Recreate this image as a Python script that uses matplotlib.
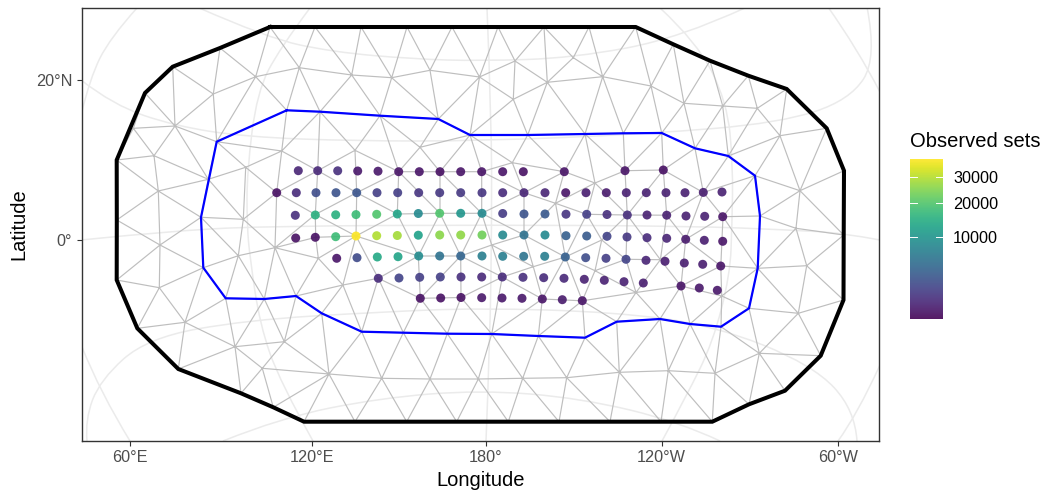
import numpy as np
import matplotlib
matplotlib.use("Agg")
import matplotlib.pyplot as plt
import matplotlib.tri as mtri
from matplotlib.path import Path
from matplotlib.patches import PathPatch
from matplotlib.colors import PowerNorm
from matplotlib.cm import ScalarMappable

plt.rcParams['font.family'] = ['Liberation Sans', 'DejaVu Sans']

# Map plane is expressed in reference-plot units
lon_ticks = [130, 311.7, 486, 661.7, 838]
lon_labels = ["60°E", "120°E", "180°", "120°W", "60°W"]
lat_ticks = [80, 240]
lat_labels = ["20°N", "0°"]

graticule = [
    [(81, 240), (180, 230), (280, 226), (486, 225), (690, 226), (790, 230), (843, 233), (880, 240)],
    [(81, 80), (113, 105), (175, 126), (247, 137), (355, 141), (480, 141), (647, 134), (780, 123), (850, 100), (877, 58), (867, 7)],
    [(197, 7), (267, 38), (333, 52), (413, 59), (480, 61), (573, 58), (680, 38), (747, 7)],
    [(87, 441), (85, 420), (100, 380), (147, 338), (247, 320), (380, 312), (480, 308), (613, 312), (713, 325), (813, 365), (855, 410), (857, 441)],
    [(223, 441), (280, 418), (380, 398), (480, 390), (580, 398), (680, 422), (720, 441)],
    [(137, 8), (110, 38), (90, 78), (81, 115)],
    [(82, 347), (100, 392), (130, 441)],
    [(310, 8), (280, 48), (257, 92), (247, 172), (247, 225), (250, 258), (260, 325), (280, 382), (313, 441)],
    [(487, 8), (491.5, 120), (491.7, 225), (490, 340), (486, 441)],
    [(660, 8), (697, 42), (727, 102), (733, 165), (732, 225), (730, 275), (713, 342), (687, 395), (662, 441)],
    [(828, 7), (857, 48), (880, 92)],
    [(880, 365), (857, 415), (838, 441)],
]

outer_boundary = [
    (270, 27), (315, 27), (361, 27), (407, 27), (452, 27), (498, 27), (544, 27), (589, 27), (635.7, 27),
    (673.3, 44.3), (710, 60.7), (748.3, 75.7), (786.7, 89), (826.7, 128.3), (844, 170.7), (843.7, 235), (843.5, 300),
    (820.7, 355.7), (785, 390.7), (749, 404.3), (712.3, 421.7), (661, 421.7), (610, 421.7), (559, 421.7), (508.3, 421.7),
    (456.7, 421.7), (406.7, 421.7), (355, 421.7), (304, 421.7), (273.3, 407.3), (241, 393.3), (178.3, 369), (137.3, 328.3),
    (116.7, 280), (116.8, 220), (116.7, 160), (145, 93), (172.7, 66.7), (220, 48),
]
inner_boundary = [
    (286.7, 110.3), (320, 111.7), (380, 115.7), (438.3, 119), (470, 135), (527.7, 135), (585, 134), (623.3, 133.3),
    (661.7, 133), (695, 148.3), (728.3, 156), (755, 175.7), (760, 216), (757.7, 268.3), (749, 308.3), (721, 326.7),
    (690, 324), (660, 319), (616.7, 321.7), (585, 337.7), (538.3, 336), (491.7, 334), (447.3, 333.7), (403.3, 332.7),
    (361.7, 331.7), (321.7, 313.3), (296, 296), (264.3, 299), (225.7, 298.3), (203.3, 267.7), (201, 217.3), (216.7, 141.7),
]
mesh_nodes = [
    (299.3, 67.7), (351.7, 75), (391.7, 77.7), (430, 70.3), (479.5, 77), (255.7, 76.7), (213.3, 94), (175, 126), (133.3, 128.3),
    (154, 155.7), (281.7, 151), (245.7, 167.3), (355, 150.3), (420, 147.3), (208.3, 179.3), (158.3, 191), (243.3, 219.3),
    (276.7, 192.7), (317.7, 170.7), (398.7, 171.7), (440, 171.7), (481.7, 171.7), (315.3, 214.5), (397.3, 214), (440, 213.3),
    (481.7, 213.3), (356.7, 192.7), (356, 236), (315.7, 237.3), (418.3, 256), (460.7, 256), (378.3, 278.3), (461, 297.5),
    (275, 247.7), (318.3, 258.3), (342.9, 285), (420.3, 298.3), (512.3, 162.7), (564.3, 171.7), (625, 170.7), (663.3, 170),
    (595, 183), (524, 192.7), (555.5, 203.3), (703.3, 192.5), (586.7, 214.3), (627.3, 215), (666.7, 215.2), (723, 216.7),
    (524, 235), (491.7, 245), (565.3, 257), (601.7, 240), (626, 259.3), (685.7, 239.3), (660.4, 259.7), (720.8, 266),
    (502.3, 277), (681, 286), (636, 292.5), (542.3, 299), (582.3, 300.8), (721.7, 296), (533.3, 266.7), (595, 270.7),
    (160, 245), (238.3, 255.7), (159.3, 287.7), (185, 322.3), (235, 346.7), (284.3, 341.7), (262.3, 368.3), (329, 374),
    (381.7, 378.3), (430, 379), (478.3, 379), (522.7, 378.3), (566.7, 377.7), (619.3, 372.3), (668.3, 370.7), (715, 373.3),
    (759.3, 353.3), (798.3, 313.3), (806.7, 265.7), (796, 228.3), (800, 190.7), (780, 135.7), (757.3, 108.3), (722.7, 106),
    (684, 103.3), (651, 86), (602.7, 76.7), (547.3, 82.3), (513.3, 99.3), (515, 61), (573.3, 57.7),
]

point_x = [
    298.3, 317.7, 337.7, 357.7, 378, 398.7, 419.3, 440, 460.7, 481.7, 502.7, 523.3, 564.3, 625, 663.3,
    276.7, 296.3, 316, 336, 356.7, 377, 397.7, 418.7, 439.7, 460.7, 482, 502.7, 524, 545, 565.7, 586, 606.3, 626.3, 646.3, 666, 685, 703.3, 722,
    295.3, 315.3, 335.7, 356, 376.7, 397.3, 418.3, 439.7, 460.7, 482, 502.7, 524, 545, 566, 586.7, 607, 627.3, 647, 666.7, 686, 704.7, 722.7,
    295.7, 315.3, 335.7, 356, 376.7, 397.3, 418.3, 439.7, 460.7, 482, 502.7, 524, 545, 566, 586.7, 607, 627, 647, 666.7, 685.7, 704.3, 722.7,
    336.7, 357, 377.3, 398, 418.7, 439.7, 460.7, 482, 502.7, 523.7, 544.7, 565.3, 585.7, 606, 626, 646, 665, 684.3, 702.7, 720.7,
    378.3, 399, 419.7, 440.3, 461, 481.7, 502.3, 523, 543.7, 564, 584.3, 604.3, 624, 643.3, 681, 699.3, 717.3,
    420.3, 440.7, 461, 481.7, 502, 522, 542.3, 562.3, 582.3,
]
point_y = [
    170.7, 170.7, 170.8, 171, 171.2, 171.7, 171.7, 171.7, 171.7, 171.7, 171.7, 171.7, 171.7, 170.7, 170,
    192.7, 192.7, 192.7, 192.7, 192.7, 192.7, 192.7, 192.7, 192.7, 192.7, 192.7, 192.7, 192.7, 192.7, 192.7, 192.7, 192.7, 192.7, 192.7, 192.7, 192.7, 192.4, 192,
    215.3, 215, 214.8, 214.6, 214.3, 214, 213.5, 213.3, 213.3, 213.3, 213.5, 214, 214, 214.2, 214.3, 214.5, 215, 215, 215.2, 216, 216.3, 216.7,
    238, 237.3, 236.7, 236, 235.7, 235.5, 235.2, 235, 235, 235, 235, 235, 235, 235.7, 236, 236.3, 237, 237.7, 238.3, 239.3, 240.3, 241.3,
    258.3, 257.7, 257, 256.7, 256, 256, 256, 256, 256.3, 256.3, 256.3, 257, 257.7, 258.3, 259.3, 260.3, 261.3, 263, 264.3, 266,
    278.3, 278, 277.3, 277, 277, 277, 277, 277.3, 277.7, 278.3, 279.3, 280.3, 281.7, 283, 286, 288, 290.3,
    298.3, 298, 297.5, 297.7, 298, 298.3, 299, 299.7, 300.7,
]
observed_sets = [
    380, 460, 650, 140, 140, 100, 100, 60, 100, 100, 100, 60, 100, 100, 60,
    60, 550, 2000, 2400, 2600, 1250, 1250, 860, 980, 980, 860, 550, 380, 380, 100, 250, 190, 310, 310, 310, 310, 250, 310,
    650, 15200, 15200, 17700, 19900, 12900, 8500, 19900, 10400, 8500, 1100, 2400, 2800, 860, 1250, 650, 650, 310, 310, 310, 310, 100,
    60, 60, 17700, 38300, 29700, 28300, 12400, 25800, 26400, 23300, 8500, 5200, 8500, 3450, 3000, 1500, 980, 550, 380, 190, 250, 100,
    100, 1850, 13800, 12900, 8800, 5200, 3900, 6800, 6800, 5500, 6800, 3450, 2000, 1250, 1500, 380, 250, 250, 250, 100,
    550, 1500, 1250, 1250, 650, 460, 550, 650, 550, 460, 310, 310, 310, 250, 100, 140, 140,
    60, 60, 60, 140, 140, 140, 100, 190, 100,
]

colorbar_ticks = [10000, 20000, 30000]
colorbar_labels = ["10000", "20000", "30000"]
color_min, color_max = 1, 38300

W, H = 1044, 495
fig = plt.figure(figsize=(W / 100, H / 100), dpi=100)
L, R, T, B = 81.5, 879, 7.5, 441
ax = fig.add_axes([L / W, 1 - B / H, (R - L) / W, (B - T) / H])
ax.set_xlim(L, R)
ax.set_ylim(B, T)


def smooth_path(curve):
    """Quadratic Bezier path that uses the read points as control points."""
    pts = np.asarray(curve, dtype=float)
    if len(pts) < 3:
        return Path(pts)
    verts = [pts[0]]
    codes = [Path.MOVETO]
    for i in range(1, len(pts) - 1):
        end = pts[i + 1] if i == len(pts) - 2 else (pts[i] + pts[i + 1]) / 2
        verts += [pts[i], end]
        codes += [Path.CURVE3, Path.CURVE3]
    return Path(verts, codes)


for curve in graticule:
    ax.add_patch(PathPatch(smooth_path(curve), fc="none", ec="#EBEBEB", lw=1.1, zorder=1))

outer = np.array(outer_boundary)
nodes = np.array(list(outer_boundary) + list(inner_boundary) + list(mesh_nodes))
tri = mtri.Triangulation(nodes[:, 0], nodes[:, 1])
cent = nodes[tri.triangles].mean(axis=1)
tri.set_mask(~Path(outer).contains_points(cent))
ax.triplot(tri, color="#BEBEBE", lw=0.85, marker="", zorder=2)

ax.plot(*np.vstack([inner_boundary, inner_boundary[:1]]).T, color="#0000FF", lw=1.6, zorder=3, solid_joinstyle="miter")
ax.plot(*np.vstack([outer_boundary, outer_boundary[:1]]).T, color="#000000", lw=2.9, zorder=3, solid_joinstyle="miter")

norm = PowerNorm(0.5, vmin=color_min, vmax=color_max)
ax.scatter(point_x, point_y, c=observed_sets, cmap="viridis", norm=norm, s=42, alpha=0.9, linewidths=0, zorder=4)

ax.set_xticks(lon_ticks, lon_labels)
ax.set_yticks(lat_ticks, lat_labels)
ax.tick_params(axis="both", length=3.6, width=0.8, color="#333333", labelcolor="#4D4D4D", labelsize=11.7, pad=3)
for s in ax.spines.values():
    s.set_color("#333333")
    s.set_linewidth(1.0)
ax.set_xlabel("Longitude", fontsize=14.5, color="black", labelpad=4.5)
ax.set_ylabel("Latitude", fontsize=14.5, color="black", labelpad=5.5)

cax = fig.add_axes([910 / W, 1 - 319 / H, 32.7 / W, 160 / H])
cb = fig.colorbar(ScalarMappable(norm=norm, cmap="viridis"), cax=cax, ticks=colorbar_ticks, alpha=0.9)
cb.ax.set_yticklabels(colorbar_labels)
cb.outline.set_visible(False)
cb.ax.tick_params(length=0, labelsize=11.7, pad=7.5, labelcolor="black")
ytr = cb.ax.get_yaxis_transform()
for v in colorbar_ticks:
    cb.ax.plot([0, 0.2], [v, v], color="white", lw=0.7, transform=ytr)
    cb.ax.plot([0.8, 1], [v, v], color="white", lw=0.7, transform=ytr)
fig.text(910 / W, 1 - 141 / H, "Observed sets", fontsize=14.5, ha="left", va="center")

fig.savefig("out.png", dpi=100)
